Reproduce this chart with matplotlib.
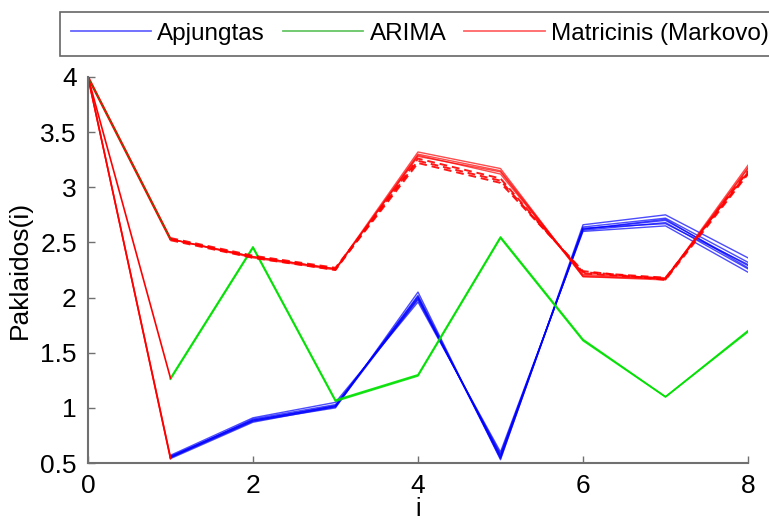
import numpy as np
import matplotlib
matplotlib.use("Agg")
from matplotlib import pyplot as plt
from matplotlib.lines import Line2D

plt.rcParams['font.family'] = ['Liberation Sans', 'DejaVu Sans']

i_vals = [0, 1, 2, 3, 4, 5, 6, 7, 8]

# Apjungtas runs
blue_runs = [
    [4, 0.55, 0.88, 1.00, 2.05, 0.53, 2.66, 2.75, 2.36],
    [4, 0.54, 0.87, 1.01, 2.02, 0.55, 2.64, 2.72, 2.32],
    [4, 0.56, 0.89, 1.02, 2.00, 0.56, 2.62, 2.70, 2.29],
    [4, 0.55, 0.90, 1.03, 1.98, 0.58, 2.61, 2.68, 2.26],
    [4, 0.57, 0.91, 1.05, 1.96, 0.60, 2.60, 2.65, 2.23],
    [4, 0.55, 0.88, 1.02, 2.01, 0.54, 2.63, 2.67, 2.30],
    [4, 0.56, 0.89, 1.01, 1.99, 0.57, 2.62, 2.71, 2.27],
]

# ARIMA runs
green_runs = [
    [4, 1.27, 2.46, 1.07, 1.30, 2.55, 1.62, 1.10, 1.70],
    [4, 1.26, 2.45, 1.06, 1.29, 2.54, 1.61, 1.10, 1.69],
]

# Matricinis (Markovo) runs, solid and dashed
red_runs = [
    [4, 2.53, 2.37, 2.26, 3.32, 3.17, 2.19, 2.17, 3.20],
    [4, 2.53, 2.36, 2.25, 3.30, 3.15, 2.20, 2.17, 3.17],
    [4, 2.53, 2.37, 2.26, 3.29, 3.12, 2.21, 2.18, 3.14],
    [4, 2.53, 2.37, 2.26, 3.28, 3.14, 2.19, 2.16, 3.18],
]
red_dashed_runs = [
    [4, 2.52, 2.36, 2.25, 3.26, 3.08, 2.22, 2.17, 3.15],
    [4, 2.53, 2.37, 2.26, 3.22, 3.04, 2.24, 2.16, 3.12],
    [4, 2.54, 2.38, 2.27, 3.24, 3.06, 2.23, 2.18, 3.13],
]

labels = ['Apjungtas', 'ARIMA', 'Matricinis (Markovo)']

fig = plt.figure(figsize=(7.69, 5.27), dpi=100)
ax = fig.add_axes([0.1144, 0.1214, 0.8583, 0.7325])

for run in blue_runs:
    ax.plot(i_vals[1:], run[1:], color='#0000ff', lw=1.0, alpha=0.7)
for run in green_runs:
    ax.plot(i_vals[1:], run[1:], color='#00e000', lw=1.2, alpha=0.9)
for run in red_runs:
    ax.plot(i_vals[1:], run[1:], color='#ff0000', lw=1.0, alpha=0.7)
for run in red_dashed_runs:
    ax.plot(i_vals[1:], run[1:], color='#ff0000', lw=1.4, ls=(0, (4, 2.5)), alpha=0.9)

# first step drawn in red for every method
for run in blue_runs[:2] + green_runs[:1]:
    ax.plot(i_vals[:2], run[:2], color='#ff0000', lw=1.2)
ax.plot(i_vals[:2], red_runs[0][:2], color='#ff0000', lw=1.8)
ax.plot(i_vals[:2], red_runs[0][:2], color='#507000', lw=0.6)

ax.set_xlim(0, 8)
ax.set_ylim(0.5, 4)
ax.set_xticks([0, 2, 4, 6, 8])
ax.set_yticks([0.5, 1, 1.5, 2, 2.5, 3, 3.5, 4])
ax.set_yticklabels(['0.5', '1', '1.5', '2', '2.5', '3', '3.5', '4'])
ax.spines['top'].set_visible(False)
ax.spines['right'].set_visible(False)
for s in ('left', 'bottom'):
    ax.spines[s].set_color('#707070')
    ax.spines[s].set_linewidth(1.5)
ax.tick_params(direction='in', length=5, width=1, color='#707070',
               labelsize=19, pad=8)
ax.set_xlabel('i', fontsize=18, labelpad=-1)
ax.set_ylabel('Paklaidos(i)', fontsize=19, labelpad=6)

handles = [Line2D([], [], color=c, lw=1.3, alpha=0.6)
           for c in ('#0000ff', '#00a000', '#ff0000')]
leg = fig.legend(handles, labels, ncol=3, loc='upper left',
                 bbox_to_anchor=(60 / 769, 1 - 12 / 527), fontsize=17.5,
                 frameon=True, fancybox=False, handlelength=3.3,
                 handletextpad=0.25, columnspacing=0.75, borderpad=0.45,
                 borderaxespad=0)
leg.get_frame().set_edgecolor('#404040')
leg.get_frame().set_linewidth(1.2)

fig.savefig('out.png', dpi=100)
